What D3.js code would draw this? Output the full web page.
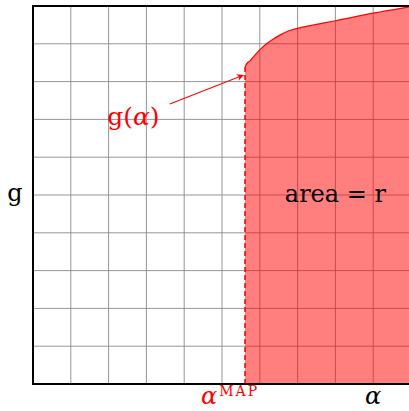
<!DOCTYPE html>
<html>
<head>
<meta charset="utf-8">
<script src="https://cdn.jsdelivr.net/npm/d3@7"></script>
<style>
  html, body { margin: 0; padding: 0; background: #fff; }
  svg { display: block; }
  text { font-family: "DejaVu Serif", "Liberation Serif", serif; }
</style>
</head>
<body>
<svg id="chart" width="409" height="411"></svg>
<script>
// Grid ticks (one cell per unit on both axes)
const gridX = d3.range(0, 11);
const gridY = d3.range(0, 11);

// Point where the posterior peaks
const alphaMap = 5.61;

// Curve g(alpha) from alpha^MAP to the right edge
const curveAlpha = [5.61, 5.65, 5.74, 5.87, 6.00, 6.18, 6.32, 6.53, 6.75, 7.00, 7.33, 8.00, 9.00, 9.95, 10.0];
const curveG     = [8.39, 8.47, 8.55, 8.70, 8.84, 9.00, 9.10, 9.23, 9.34, 9.41, 9.48, 9.61, 9.81, 9.98, 9.99];

// Label anchors in data units
const arrowFrom = [3.62, 7.41];
const arrowTo   = [5.56, 8.17];
const gLabelPos = [3.35, 6.85];
const areaLabelPos = [8.0, 5.0];

const svg = d3.select("#chart");
const x = d3.scaleLinear().domain([0, 10]).range([33, 411]);
const y = d3.scaleLinear().domain([0, 10]).range([384, 6]);

const red = "#ff0000";

// grid
svg.append("g").selectAll("line.v").data(gridX).join("line")
  .attr("x1", d => x(d)).attr("x2", d => x(d))
  .attr("y1", y(0)).attr("y2", y(10))
  .attr("stroke", "#8a8a8a").attr("stroke-width", 0.9);
svg.append("g").selectAll("line.h").data(gridY).join("line")
  .attr("x1", x(0)).attr("x2", x(10))
  .attr("y1", d => y(d)).attr("y2", d => y(d))
  .attr("stroke", "#8a8a8a").attr("stroke-width", 0.9);

const pts = curveAlpha.map((a, i) => [a, curveG[i]]);

// shaded region under g to the right of alpha^MAP
const area = d3.area()
  .x(d => x(d[0])).y0(y(0)).y1(d => y(d[1]))
  .curve(d3.curveMonotoneX);
svg.append("path").datum(pts)
  .attr("d", area)
  .attr("fill", red).attr("fill-opacity", 0.5);

// the curve itself
const line = d3.line().x(d => x(d[0])).y(d => y(d[1])).curve(d3.curveMonotoneX);
svg.append("path").datum(pts)
  .attr("d", line)
  .attr("fill", "none").attr("stroke", red).attr("stroke-width", 1.2);

// dashed drop line at alpha^MAP
svg.append("line")
  .attr("x1", x(alphaMap)).attr("x2", x(alphaMap))
  .attr("y1", y(0)).attr("y2", y(curveG[0]))
  .attr("stroke", red).attr("stroke-width", 1.6)
  .attr("stroke-dasharray", "5,3");

// axes frame: left, bottom, top
const frame = svg.append("g").attr("stroke", "#000").attr("stroke-width", 2);
frame.append("line").attr("x1", x(0)).attr("x2", x(0)).attr("y1", y(0) + 1).attr("y2", y(10) - 1);
frame.append("line").attr("x1", x(0) - 1).attr("x2", x(10)).attr("y1", y(0)).attr("y2", y(0));
frame.append("line").attr("x1", x(0) - 1).attr("x2", x(10)).attr("y1", y(10)).attr("y2", y(10));

// arrow to the curve
const defs = svg.append("defs");
defs.append("marker").attr("id", "arrow")
  .attr("viewBox", "0 0 10 10").attr("refX", 9).attr("refY", 5)
  .attr("markerWidth", 7).attr("markerHeight", 7)
  .attr("markerUnits", "userSpaceOnUse")
  .attr("orient", "auto")
  .append("path").attr("d", "M0,0 L10,5 L0,10 L3,5 Z").attr("fill", red);
svg.append("line")
  .attr("x1", x(arrowFrom[0])).attr("y1", y(arrowFrom[1]))
  .attr("x2", x(arrowTo[0])).attr("y2", y(arrowTo[1]))
  .attr("stroke", red).attr("stroke-width", 1.1)
  .attr("marker-end", "url(#arrow)");

// labels
const gl = svg.append("text")
  .attr("x", x(gLabelPos[0])).attr("y", y(gLabelPos[1]))
  .attr("text-anchor", "end").attr("fill", red)
  .attr("font-size", 25);
gl.append("tspan").text("g(");
gl.append("tspan").attr("font-style", "italic").text("α");
gl.append("tspan").text(")");

svg.append("text")
  .attr("x", x(areaLabelPos[0])).attr("y", y(areaLabelPos[1]) + 7)
  .attr("text-anchor", "middle").attr("fill", "#000")
  .attr("font-size", 24)
  .text("area = r");

svg.append("text")
  .attr("x", 15).attr("y", y(5) + 6)
  .attr("text-anchor", "middle").attr("font-size", 24)
  .text("g");

svg.append("text")
  .attr("x", x(9.0)).attr("y", 404)
  .attr("text-anchor", "middle").attr("font-size", 24).attr("font-style", "italic")
  .text("α");

const am = svg.append("text")
  .attr("x", x(alphaMap) - 44).attr("y", 404)
  .attr("fill", red).attr("font-size", 24);
am.append("tspan").attr("font-style", "italic").text("α");
am.append("tspan").attr("font-size", 14).attr("letter-spacing", 2)
  .attr("dy", -8).attr("dx", 2).text("MAP");
</script>
</body>
</html>
